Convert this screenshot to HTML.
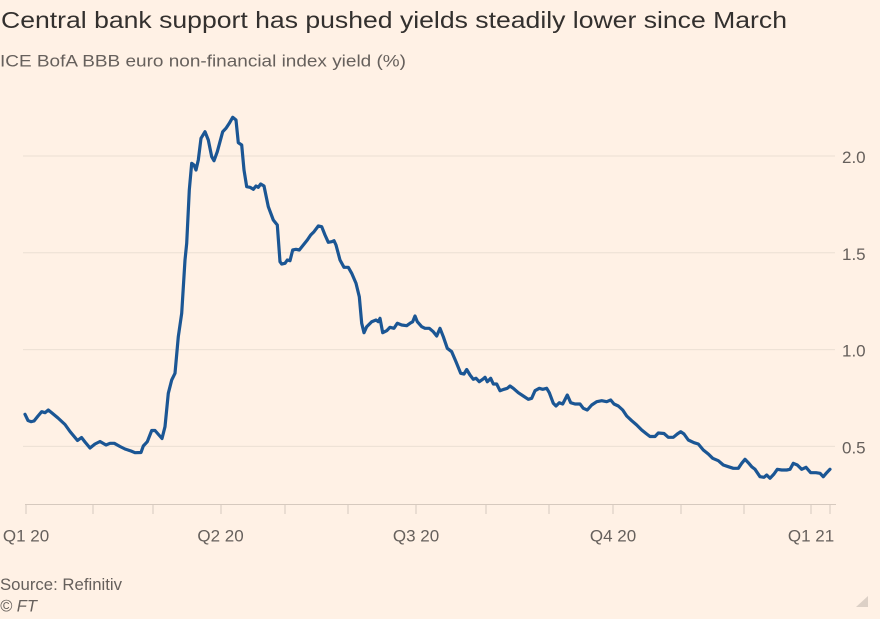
<!DOCTYPE html>
<html>
<head>
<meta charset="utf-8">
<style>
  html, body { margin: 0; padding: 0; background: #fff1e5; }
  body { width: 880px; height: 619px; overflow: hidden; }
  svg { display: block; }
  text { font-family: "Liberation Sans", sans-serif; }
</style>
</head>
<body>
<svg width="880" height="619" viewBox="0 0 880 619" xmlns="http://www.w3.org/2000/svg">
  <rect x="0" y="0" width="880" height="619" fill="#fff1e5"/>

  <!-- Title & subtitle -->
  <text x="1" y="28" font-size="23" fill="#33302e" textLength="786" lengthAdjust="spacingAndGlyphs">Central bank support has pushed yields steadily lower since March</text>
  <text x="0" y="66.5" font-size="17" fill="#66605c" textLength="406" lengthAdjust="spacingAndGlyphs">ICE BofA BBB euro non-financial index yield (%)</text>

  <!-- Gridlines -->
  <g stroke="#ebdfd4" stroke-width="1">
    <line x1="23" y1="156" x2="835" y2="156"/>
    <line x1="23" y1="252.8" x2="835" y2="252.8"/>
    <line x1="23" y1="349.6" x2="835" y2="349.6"/>
    <line x1="23" y1="446.4" x2="835" y2="446.4"/>
  </g>

  <!-- Y labels -->
  <g font-size="17" fill="#66605c">
    <text x="842" y="163">2.0</text>
    <text x="842" y="260">1.5</text>
    <text x="842" y="356.6">1.0</text>
    <text x="842" y="453.4">0.5</text>
  </g>

  <!-- X axis -->
  <g stroke="#d6c9be" stroke-width="1">
    <line x1="25" y1="504.5" x2="836" y2="504.5"/>
    <line x1="26" y1="504.5" x2="26" y2="514"/>
    <line x1="93" y1="504.5" x2="93" y2="514"/>
    <line x1="153" y1="504.5" x2="153" y2="514"/>
    <line x1="221" y1="504.5" x2="221" y2="514"/>
    <line x1="285" y1="504.5" x2="285" y2="514"/>
    <line x1="348" y1="504.5" x2="348" y2="514"/>
    <line x1="416" y1="504.5" x2="416" y2="514"/>
    <line x1="486" y1="504.5" x2="486" y2="514"/>
    <line x1="549" y1="504.5" x2="549" y2="514"/>
    <line x1="613" y1="504.5" x2="613" y2="514"/>
    <line x1="681" y1="504.5" x2="681" y2="514"/>
    <line x1="744" y1="504.5" x2="744" y2="514"/>
    <line x1="811" y1="504.5" x2="811" y2="514"/>
    <line x1="830" y1="504.5" x2="830" y2="514"/>
  </g>

  <g font-size="17" fill="#66605c" text-anchor="middle">
    <text x="26" y="541.7">Q1 20</text>
    <text x="220.5" y="541.7">Q2 20</text>
    <text x="416" y="541.7">Q3 20</text>
    <text x="613" y="541.7">Q4 20</text>
    <text x="811" y="541.7">Q1 21</text>
  </g>

  <!-- Series -->
  <polyline fill="none" stroke="#1b5694" stroke-width="3.2" stroke-linejoin="round" stroke-linecap="round"
    points="25,414.3 28,420.5 31,421.7 34,421 38,416 41.7,411.7 45,412.7 48.3,410 52,413 58,418 65,424.5 70,431.5 75,437.5 77.5,440.5 81.5,437.5 85,442 90,448 95,444 100,441.5 106,445 110,443.3 114.3,443.3 120,446.5 125,449 131,451 135,452.7 141,452.5 143.3,446 147.3,441.7 151.7,430.5 155,430.5 158.5,434.5 162,438.5 165,426.7 168.3,393.3 171.7,380 175,373.3 178.3,336.7 181.7,313.3 185,260 186.7,243.3 189.3,190 191.7,163.3 194,165 196,170 198.3,160 201,138.3 205,131.7 208.3,140 211.7,156.7 214,160.7 217.3,151.7 222.7,131.7 226,128.3 229.3,123.3 232.7,117.3 236,120 238.3,142.7 241.7,145 244,170 246.7,186.7 250,187.3 253.3,189.3 256,186 258.3,187.3 260.7,184 264,186 268.3,206.7 273.3,220 277.3,225 280,261.7 281.7,264 285,263.3 287.3,260 290,260.7 292.7,250 296,249.3 299.3,250 303.3,245 307.3,240 310.7,235 314,231.7 318.3,226 321.7,226.7 325,235 328.3,242.3 331.7,241.7 334,240.7 336,245 340,260 344,267.3 348.3,267.3 351.7,273.3 356,283.3 359.3,296.7 361.7,323.3 364,332.7 366.7,326.7 371.7,321.7 376,320 378.3,321.7 380,318.3 382.7,332.7 386.7,330.7 390,327.3 394,328.3 397.3,323.3 401.7,325 406.7,325.7 410,323.3 412.7,321.7 415,316 417.3,321.7 421.7,326.7 425,328.3 429.3,328.3 433.3,331.7 436.7,336 440,328.3 443.3,336.7 447.3,348.3 451.7,351.7 456,361.7 460.7,373.3 464,374 466.7,369.5 470,375 473.3,379.3 476,378.3 479.3,381.7 482.7,379.3 485,377.3 487.3,381.7 490.7,378.3 493.3,384 496.7,384 500,390.7 504,389.3 507.3,388.3 510,386 513.3,388.3 518.3,392.7 523.3,396 528.3,399.3 531.7,398.3 535,390.7 539.3,388.3 542.7,389.3 546.7,388.3 549.3,392.7 553.3,403.3 556,406 559.3,402.7 562.7,404 567.3,395 570.7,402.7 575,404 580,404 583.3,408.3 587.3,410 591.7,405 596.7,401.7 601.7,400.7 606.7,401.7 610.7,400 614,404 618.3,406 622.7,410 626.7,416 631.7,420.7 636.7,425 641.7,430 646.7,434 650,436.5 655,436.5 658.3,433 664,433.5 668.3,437.3 673.3,437.3 677.3,434 680.7,431.7 684,434 688.3,440 694,442.7 698.3,444 703.3,450 708.3,454 712.7,458.3 718.3,460.7 723.3,465 728.3,466.7 733.3,468.3 738.3,468.3 741.7,463.3 745,459.3 748.3,462.7 751.7,466.7 755,469.3 760,476.7 764,477.3 766.7,475 770,478.3 774,474 777.3,469.3 781.7,470 786.7,470 790,469.3 793.3,463.3 797.3,465 801.7,469.3 806,467.3 810.7,472.7 816,472.7 820,473.3 823.3,476.7 826.7,472.7 830,469.3"/>

  <!-- Footer -->
  <text x="0" y="590" font-size="16.5" fill="#66605c" textLength="122" lengthAdjust="spacingAndGlyphs">Source: Refinitiv</text>
  <text x="0" y="611.5" font-size="16.5" font-style="italic" fill="#66605c">© FT</text>

  <!-- Resize grip -->
  <polygon points="868,596 868,607 856,607" fill="#dcd0c6"/>
</svg>
</body>
</html>
